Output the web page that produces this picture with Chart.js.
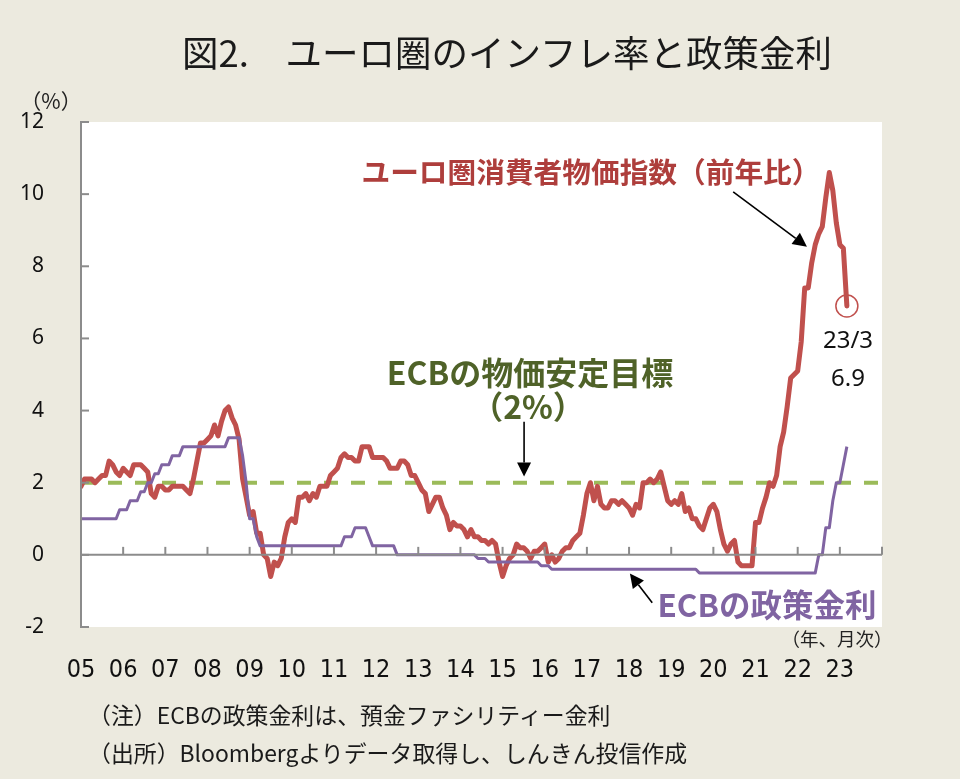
<!DOCTYPE html>
<html lang="ja">
<head>
<meta charset="utf-8">
<script src="https://cdn.jsdelivr.net/npm/chart.js@4/dist/chart.umd.min.js"></script>
<style>
  html, body { margin: 0; padding: 0; background: #ECEADF; }
  #wrap { position: relative; width: 960px; height: 779px; overflow: hidden; background: #ECEADF; }
  #wrap canvas { position: absolute; left: 0; top: 0; }
  .t { position: absolute; white-space: nowrap; font-family: "Noto Sans CJK JP", "Noto Sans", sans-serif; line-height: 1; }
  .c { transform: translate(-50%, -50%); }
  .l { transform: translate(0, -50%); }
</style>
</head>
<body>
<div id="wrap">
  <canvas id="chart" width="960" height="779"></canvas>
  <div class="t c" style="left:507px; top:52px; font-size:36.5px; color:#1a1a1a;">図2.&#x3000;ユーロ圏のインフレ率と政策金利</div>
  <div class="t c" style="left:51px; top:100px; font-size:21px; color:#222;">（%）</div>
  <div class="t c" style="left:591px; top:171px; font-size:28.7px; font-weight:700; color:#AE3E3C;">ユーロ圏消費者物価指数（前年比）</div>
  <div class="t c" style="left:530px; top:371px; font-size:32px; font-weight:700; color:#4F6228;">ECBの物価安定目標</div>
  <div class="t c" style="left:528px; top:405px; font-size:32px; font-weight:700; color:#4F6228;">（2%）</div>
  <div class="t c" style="left:767px; top:604px; font-size:31.5px; font-weight:700; color:#8064A2;">ECBの政策金利</div>
  <div class="t c" style="left:848px; top:339px; font-size:24px; color:#111; font-family:'Noto Sans', sans-serif;">23/3</div>
  <div class="t c" style="left:848px; top:377px; font-size:24px; color:#111; font-family:'Noto Sans', sans-serif;">6.9</div>
  <div class="t c" style="left:837px; top:638px; font-size:18.5px; color:#222;">（年、月次）</div>
  <div class="t l" style="left:88px; top:714px; font-size:22.9px; color:#1a1a1a;">（注）ECBの政策金利は、預金ファシリティー金利</div>
  <div class="t l" style="left:88px; top:752px; font-size:22.9px; color:#1a1a1a;">（出所）Bloombergよりデータ取得し、しんきん投信作成</div>
</div>
<script>
// ---- data (monthly, Jan 2005 - Mar 2023) ----
const yearLabels = ['05','06','07','08','09','10','11','12','13','14','15','16','17','18','19','20','21','22','23'];

// Euro area HICP, % y/y
const cpi = [
  1.9, 2.1, 2.1, 2.1, 2.0, 2.1, 2.2, 2.2, 2.6, 2.5, 2.3, 2.2,   // 2005
  2.4, 2.3, 2.2, 2.5, 2.5, 2.5, 2.4, 2.3, 1.7, 1.6, 1.9, 1.9,   // 2006
  1.8, 1.8, 1.9, 1.9, 1.9, 1.9, 1.8, 1.7, 2.1, 2.6, 3.1, 3.1,   // 2007
  3.2, 3.3, 3.6, 3.3, 3.7, 4.0, 4.1, 3.8, 3.6, 3.2, 2.1, 1.6,   // 2008
  1.1, 1.2, 0.6, 0.6, 0.0, -0.1, -0.6, -0.2, -0.3, -0.1, 0.5, 0.9, // 2009
  1.0, 0.9, 1.6, 1.6, 1.7, 1.5, 1.7, 1.6, 1.9, 1.9, 1.9, 2.2,   // 2010
  2.3, 2.4, 2.7, 2.8, 2.7, 2.7, 2.6, 2.6, 3.0, 3.0, 3.0, 2.7,   // 2011
  2.7, 2.7, 2.7, 2.6, 2.4, 2.4, 2.4, 2.6, 2.6, 2.5, 2.2, 2.2,   // 2012
  2.0, 1.8, 1.7, 1.2, 1.4, 1.6, 1.6, 1.3, 1.1, 0.7, 0.9, 0.8,   // 2013
  0.8, 0.7, 0.5, 0.7, 0.5, 0.5, 0.4, 0.4, 0.3, 0.4, 0.3, -0.2,  // 2014
  -0.6, -0.3, -0.1, 0.0, 0.3, 0.2, 0.2, 0.1, -0.1, 0.1, 0.1, 0.2, // 2015
  0.3, -0.2, 0.0, -0.2, -0.1, 0.1, 0.2, 0.2, 0.4, 0.5, 0.6, 1.1, // 2016
  1.7, 2.0, 1.5, 1.9, 1.4, 1.3, 1.3, 1.5, 1.5, 1.4, 1.5, 1.4,   // 2017
  1.3, 1.1, 1.4, 1.3, 2.0, 2.0, 2.1, 2.0, 2.1, 2.3, 1.9, 1.5,   // 2018
  1.4, 1.5, 1.4, 1.7, 1.2, 1.3, 1.0, 1.0, 0.8, 0.7, 1.0, 1.3,   // 2019
  1.4, 1.2, 0.7, 0.3, 0.1, 0.3, 0.4, -0.2, -0.3, -0.3, -0.3, -0.3, // 2020
  0.9, 0.9, 1.3, 1.6, 2.0, 1.9, 2.2, 3.0, 3.4, 4.1, 4.9, 5.0,   // 2021
  5.1, 5.9, 7.4, 7.4, 8.1, 8.6, 8.9, 9.1, 9.9, 10.6, 10.1, 9.2, // 2022
  8.6, 8.5, 6.9                                                 // 2023
];

// ECB deposit facility rate, %
const depositRate = [
  1.00, 1.00, 1.00, 1.00, 1.00, 1.00, 1.00, 1.00, 1.00, 1.00, 1.00, 1.25, // 2005
  1.25, 1.25, 1.50, 1.50, 1.50, 1.75, 1.75, 2.00, 2.00, 2.25, 2.25, 2.50, // 2006
  2.50, 2.50, 2.75, 2.75, 2.75, 3.00, 3.00, 3.00, 3.00, 3.00, 3.00, 3.00, // 2007
  3.00, 3.00, 3.00, 3.00, 3.00, 3.00, 3.25, 3.25, 3.25, 3.25, 2.75, 2.00, // 2008
  1.00, 1.00, 0.50, 0.25, 0.25, 0.25, 0.25, 0.25, 0.25, 0.25, 0.25, 0.25, // 2009
  0.25, 0.25, 0.25, 0.25, 0.25, 0.25, 0.25, 0.25, 0.25, 0.25, 0.25, 0.25, // 2010
  0.25, 0.25, 0.25, 0.50, 0.50, 0.50, 0.75, 0.75, 0.75, 0.75, 0.50, 0.25, // 2011
  0.25, 0.25, 0.25, 0.25, 0.25, 0.25, 0.00, 0.00, 0.00, 0.00, 0.00, 0.00, // 2012
  0.00, 0.00, 0.00, 0.00, 0.00, 0.00, 0.00, 0.00, 0.00, 0.00, 0.00, 0.00, // 2013
  0.00, 0.00, 0.00, 0.00, 0.00, -0.10, -0.10, -0.10, -0.20, -0.20, -0.20, -0.20, // 2014
  -0.20, -0.20, -0.20, -0.20, -0.20, -0.20, -0.20, -0.20, -0.20, -0.20, -0.20, -0.30, // 2015
  -0.30, -0.30, -0.40, -0.40, -0.40, -0.40, -0.40, -0.40, -0.40, -0.40, -0.40, -0.40, // 2016
  -0.40, -0.40, -0.40, -0.40, -0.40, -0.40, -0.40, -0.40, -0.40, -0.40, -0.40, -0.40, // 2017
  -0.40, -0.40, -0.40, -0.40, -0.40, -0.40, -0.40, -0.40, -0.40, -0.40, -0.40, -0.40, // 2018
  -0.40, -0.40, -0.40, -0.40, -0.40, -0.40, -0.40, -0.40, -0.50, -0.50, -0.50, -0.50, // 2019
  -0.50, -0.50, -0.50, -0.50, -0.50, -0.50, -0.50, -0.50, -0.50, -0.50, -0.50, -0.50, // 2020
  -0.50, -0.50, -0.50, -0.50, -0.50, -0.50, -0.50, -0.50, -0.50, -0.50, -0.50, -0.50, // 2021
  -0.50, -0.50, -0.50, -0.50, -0.50, -0.50, 0.00, 0.00, 0.75, 0.75, 1.50, 2.00, // 2022
  2.00, 2.50, 3.00                                                        // 2023
];

const target = [2, 2];          // ECB price stability target (%)
const yTicks = [-2, 0, 2, 4, 6, 8, 10, 12];

// x position in years since Jan 2005 (month index / 12)
const toPoints = arr => arr.map((v, i) => ({ x: i / 12, y: v }));
const xMax = yearLabels.length; // end of 2023

// annotation arrows given in data coordinates
const arrows = [
  { from: [15.47, 10.06], to: [17.22, 8.54] },
  { from: [10.51, 3.69], to: [10.51, 2.17] },
  { from: [13.55, -1.33], to: [13.02, -0.52] }
];

const deco = {
  id: 'deco',
  afterDatasetsDraw(chart) {
    const { ctx, scales: { x, y } } = chart;
    const left = x.getPixelForValue(0), right = x.getPixelForValue(xMax);
    const top = y.getPixelForValue(12), bottom = y.getPixelForValue(-2);
    const y0 = y.getPixelForValue(0);
    ctx.save();
    ctx.strokeStyle = '#8c8c8c';
    ctx.lineWidth = 2;
    ctx.beginPath(); ctx.moveTo(left, y0); ctx.lineTo(right, y0); ctx.stroke();
    ctx.beginPath(); ctx.moveTo(left, top - 1); ctx.lineTo(left, bottom + 1); ctx.stroke();
    yTicks.forEach(v => {
      const py = y.getPixelForValue(v);
      ctx.beginPath(); ctx.moveTo(left, py); ctx.lineTo(left + 8, py); ctx.stroke();
    });
    for (let i = 1; i <= xMax; i++) {
      const px = x.getPixelForValue(i);
      ctx.beginPath(); ctx.moveTo(px, y0); ctx.lineTo(px, y0 - 8); ctx.stroke();
    }
    const li = cpi.length - 1;
    const cx = x.getPixelForValue(li / 12), cy = y.getPixelForValue(cpi[li]);
    ctx.strokeStyle = '#C0504D'; ctx.lineWidth = 1.5;
    ctx.beginPath(); ctx.arc(cx, cy, 11, 0, Math.PI * 2); ctx.stroke();
    ctx.strokeStyle = '#000'; ctx.fillStyle = '#000'; ctx.lineWidth = 1.6;
    arrows.forEach(a => {
      const x1 = x.getPixelForValue(a.from[0]), y1 = y.getPixelForValue(a.from[1]);
      const x2 = x.getPixelForValue(a.to[0]), y2 = y.getPixelForValue(a.to[1]);
      const ang = Math.atan2(y2 - y1, x2 - x1);
      const hl = 14, hw = 7;
      const bx = x2 - hl * Math.cos(ang), by = y2 - hl * Math.sin(ang);
      ctx.beginPath(); ctx.moveTo(x1, y1); ctx.lineTo(bx, by); ctx.stroke();
      ctx.beginPath();
      ctx.moveTo(x2, y2);
      ctx.lineTo(bx + hw * Math.sin(ang), by - hw * Math.cos(ang));
      ctx.lineTo(bx - hw * Math.sin(ang), by + hw * Math.cos(ang));
      ctx.closePath(); ctx.fill();
    });
    ctx.restore();
  }
};

const plotBg = {
  id: 'plotBg',
  beforeDraw(chart) {
    const { ctx, chartArea: a } = chart;
    ctx.save();
    ctx.fillStyle = '#ECEADF';
    ctx.fillRect(0, 0, chart.width, chart.height);
    ctx.fillStyle = '#ffffff';
    ctx.fillRect(a.left, a.top, a.right - a.left, a.bottom - a.top);
    ctx.restore();
  }
};

new Chart(document.getElementById('chart'), {
  type: 'line',
  data: {
    datasets: [
      { label: 'ECBの政策金利', data: toPoints(depositRate), borderColor: '#8064A2', borderWidth: 3,
        pointRadius: 0, tension: 0, order: 0, borderJoinStyle: 'round' },
      { label: 'ユーロ圏消費者物価指数（前年比）', data: toPoints(cpi), borderColor: '#C0504D', borderWidth: 5,
        pointRadius: 0, tension: 0, order: 1, borderJoinStyle: 'round', borderCapStyle: 'round' },
      { label: 'ECBの物価安定目標', data: target.map((v, i) => ({ x: i * xMax, y: v })), borderColor: '#9BBB59',
        borderWidth: 4, borderDash: [14, 13], pointRadius: 0, order: 2 }
    ]
  },
  options: {
    responsive: false,
    animation: false,
    events: [],
    layout: { padding: { left: 0, right: 78, top: 122, bottom: 82 } },
    plugins: { legend: { display: false }, tooltip: { enabled: false } },
    scales: {
      x: {
        type: 'linear', min: 0, max: xMax,
        grid: { display: false }, border: { display: false },
        afterFit(s) { s.height = 70; },
        afterBuildTicks(s) { s.ticks = Array.from({ length: xMax + 1 }, (_, i) => ({ value: i })); },
        ticks: {
          autoSkip: false, maxRotation: 0, padding: 20, color: '#111',
          font: { family: "'DejaVu Sans Condensed', 'Liberation Sans', sans-serif", size: 25 },
          callback: v => (yearLabels[v] !== undefined ? yearLabels[v] : '')
        }
      },
      y: {
        min: -2, max: 12,
        grid: { display: false }, border: { display: false },
        afterFit(s) { s.width = 81; },
        afterBuildTicks(s) { s.ticks = yTicks.map(v => ({ value: v })); },
        ticks: { padding: 29, color: '#111', font: { family: 'Noto Sans', size: 21 } }
      }
    }
  },
  plugins: [plotBg, deco]
});
</script>
</body>
</html>
